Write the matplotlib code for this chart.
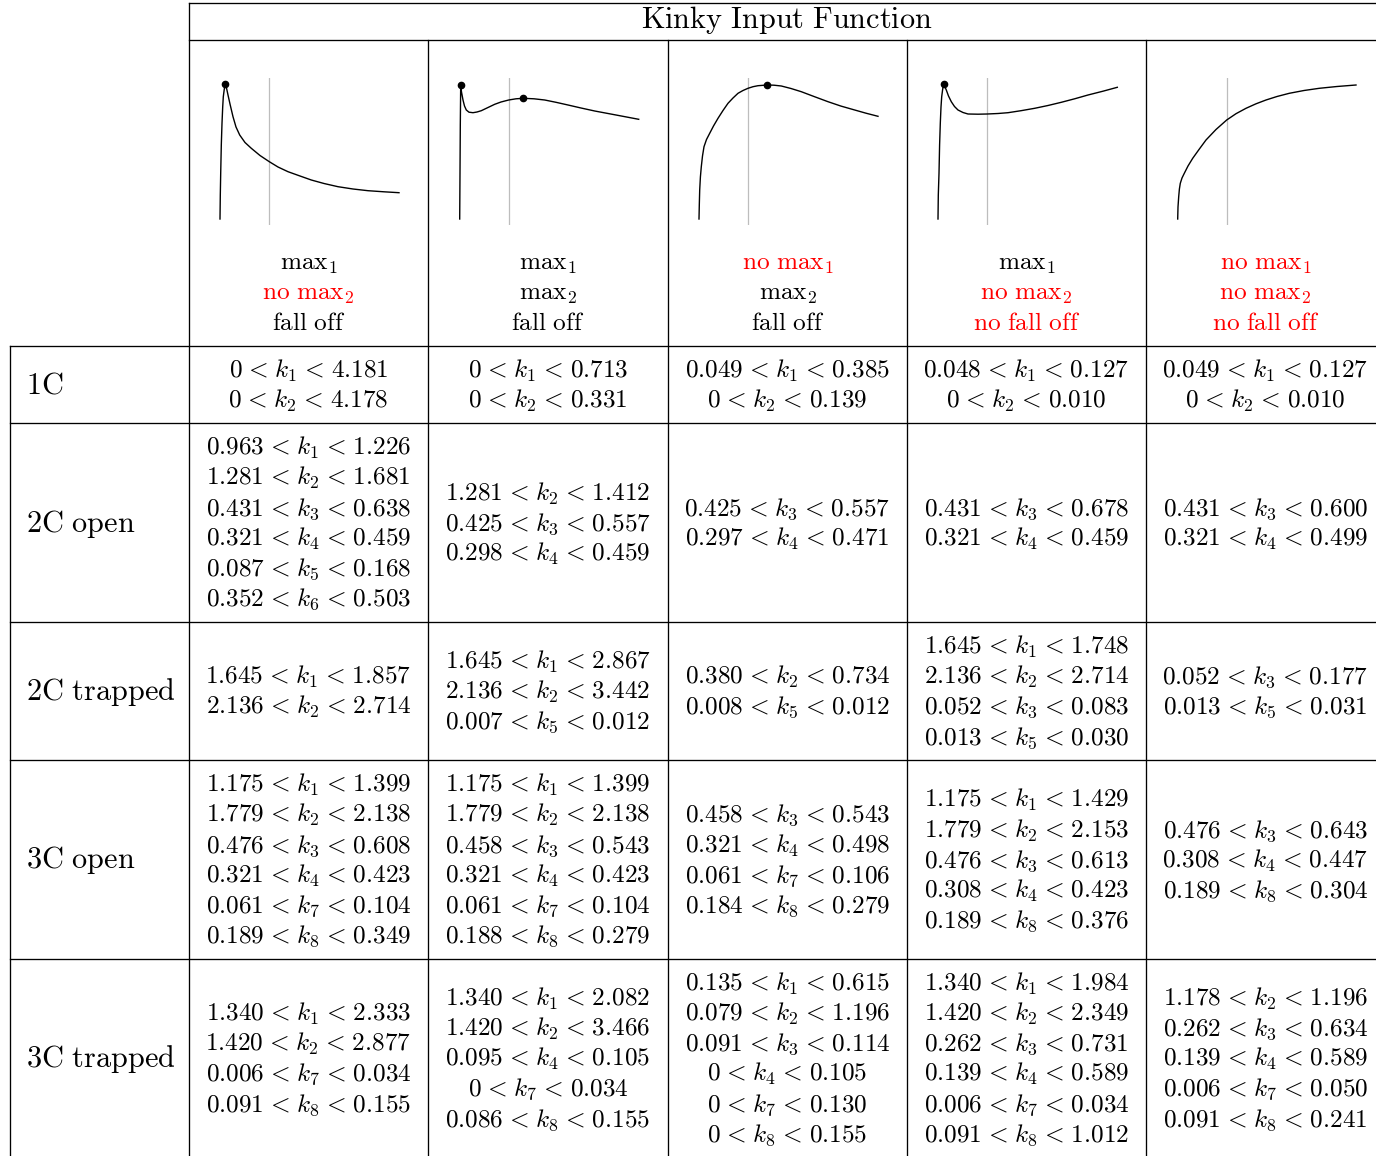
import matplotlib
matplotlib.use("Agg")
import matplotlib.pyplot as plt

plt.rcParams["mathtext.fontset"] = "cm"

# --- table content -------------------------------------------------------
title = "Kinky Input Function"
row_names = ["1C", "2C open", "2C trapped", "3C open", "3C trapped"]

has_max1 = [True, True, False, True, False]
has_max2 = [False, True, True, False, False]
falls_off = [True, True, True, False, False]

# (lower, parameter index, upper) per line, one list per column
ranges_1c = [
    [("0", 1, "4.181"), ("0", 2, "4.178")],
    [("0", 1, "0.713"), ("0", 2, "0.331")],
    [("0.049", 1, "0.385"), ("0", 2, "0.139")],
    [("0.048", 1, "0.127"), ("0", 2, "0.010")],
    [("0.049", 1, "0.127"), ("0", 2, "0.010")],
]
ranges_2c_open = [
    [("0.963", 1, "1.226"), ("1.281", 2, "1.681"), ("0.431", 3, "0.638"),
     ("0.321", 4, "0.459"), ("0.087", 5, "0.168"), ("0.352", 6, "0.503")],
    [("1.281", 2, "1.412"), ("0.425", 3, "0.557"), ("0.298", 4, "0.459")],
    [("0.425", 3, "0.557"), ("0.297", 4, "0.471")],
    [("0.431", 3, "0.678"), ("0.321", 4, "0.459")],
    [("0.431", 3, "0.600"), ("0.321", 4, "0.499")],
]
ranges_2c_trapped = [
    [("1.645", 1, "1.857"), ("2.136", 2, "2.714")],
    [("1.645", 1, "2.867"), ("2.136", 2, "3.442"), ("0.007", 5, "0.012")],
    [("0.380", 2, "0.734"), ("0.008", 5, "0.012")],
    [("1.645", 1, "1.748"), ("2.136", 2, "2.714"), ("0.052", 3, "0.083"),
     ("0.013", 5, "0.030")],
    [("0.052", 3, "0.177"), ("0.013", 5, "0.031")],
]
ranges_3c_open = [
    [("1.175", 1, "1.399"), ("1.779", 2, "2.138"), ("0.476", 3, "0.608"),
     ("0.321", 4, "0.423"), ("0.061", 7, "0.104"), ("0.189", 8, "0.349")],
    [("1.175", 1, "1.399"), ("1.779", 2, "2.138"), ("0.458", 3, "0.543"),
     ("0.321", 4, "0.423"), ("0.061", 7, "0.104"), ("0.188", 8, "0.279")],
    [("0.458", 3, "0.543"), ("0.321", 4, "0.498"), ("0.061", 7, "0.106"),
     ("0.184", 8, "0.279")],
    [("1.175", 1, "1.429"), ("1.779", 2, "2.153"), ("0.476", 3, "0.613"),
     ("0.308", 4, "0.423"), ("0.189", 8, "0.376")],
    [("0.476", 3, "0.643"), ("0.308", 4, "0.447"), ("0.189", 8, "0.304")],
]
ranges_3c_trapped = [
    [("1.340", 1, "2.333"), ("1.420", 2, "2.877"), ("0.006", 7, "0.034"),
     ("0.091", 8, "0.155")],
    [("1.340", 1, "2.082"), ("1.420", 2, "3.466"), ("0.095", 4, "0.105"),
     ("0", 7, "0.034"), ("0.086", 8, "0.155")],
    [("0.135", 1, "0.615"), ("0.079", 2, "1.196"), ("0.091", 3, "0.114"),
     ("0", 4, "0.105"), ("0", 7, "0.130"), ("0", 8, "0.155")],
    [("1.340", 1, "1.984"), ("1.420", 2, "2.349"), ("0.262", 3, "0.731"),
     ("0.139", 4, "0.589"), ("0.006", 7, "0.034"), ("0.091", 8, "1.012")],
    [("1.178", 2, "1.196"), ("0.262", 3, "0.634"), ("0.139", 4, "0.589"),
     ("0.006", 7, "0.050"), ("0.091", 8, "0.241")],
]
all_ranges = [ranges_1c, ranges_2c_open, ranges_2c_trapped,
              ranges_3c_open, ranges_3c_trapped]

# sketch curves of the input function shapes (arbitrary units)
curve_x = [
    [0, 0.3, 0.7, 1.3, 2, 2.7, 3.3, 4.3, 5.3, 6.5, 8, 10, 13, 16, 19.7, 25,
     31.3, 40, 49.3, 58, 68, 80, 91.3, 104, 118, 133, 148, 164, 179],
    [0.7, 1, 1.3, 1.7, 2.5, 4, 5.5, 7.3, 10, 14, 18, 22.3, 29, 35.7, 42,
     49.7, 57, 64.3, 75, 85.7, 97, 109, 122, 135.7, 157, 179.7],
    [0, 0.3, 0.7, 1.4, 2.3, 3.5, 5, 7.5, 10.7, 14.5, 19, 24, 29, 34, 39, 44,
     49, 54, 59, 68.3, 75, 82.3, 92, 102.3, 115, 129, 142, 155.7, 167, 179],
    [0, 0.3, 1, 1.6, 2.3, 3, 3.7, 4.7, 5.7, 7, 8.3, 10.5, 13.3, 16.5, 20,
     25, 30, 40, 49.3, 60, 70, 83, 96.7, 110, 123.3, 137, 150, 165, 179.3],
    [0.7, 1, 1.7, 2.4, 3.3, 5, 7.3, 11, 15.7, 22, 29, 39, 49.7, 59, 69, 79,
     89, 100, 112.3, 127, 142.3, 160, 179],
]
curve_y = [
    [6, 30, 51.7, 80, 101.7, 118, 128.3, 136, 140.7, 137, 130, 121, 108.3,
     98, 90, 82.5, 76.7, 69.5, 63.3, 58, 53.3, 49, 45, 41.5, 38.3, 36,
     34.3, 33.2, 32.3],
    [6, 52, 100, 140, 133, 125, 119, 115, 112.8, 112.3, 113, 114.3, 117.5,
     120.7, 123, 125, 126.2, 126.7, 126.2, 125, 122.7, 120, 117, 114, 110,
     105.7],
    [6, 20, 35, 48, 58.3, 69, 78.3, 85.5, 91.7, 99, 106.7, 114.5, 121.7, 127,
     131.7, 134.5, 136.7, 138.3, 139.3, 140, 139.8, 139, 136.5, 133.3, 128.5,
     123.3, 118.9, 115, 111.8, 108.7],
    [6, 30, 51.7, 80, 101.7, 118, 128.3, 136, 140.7, 138, 135, 129, 123.3,
     118.5, 115, 112.5, 111, 110.8, 111, 111.5, 112.3, 114.3, 116.7, 119.5,
     122.7, 126.3, 130, 133.8, 137.7],
    [6, 18, 28.3, 36, 41.7, 47, 51.7, 59, 66.7, 75.5, 85, 95.5, 105, 111.3,
     116.7, 121.2, 125, 128.5, 131.7, 134.5, 136.7, 138.5, 140],
]
curve_maxima = [[8], [3, 17], [19], [8], []]
curve_mark_x = [49.3, 49.7, 49.0, 49.3, 49.7]

# --- layout (pixels) ------------------------------------------------------
W, H = 1376, 1156
col_edges = [189, 428, 668, 907, 1146, 1385]
row_edges = [346, 423, 622, 760, 959, 1157]
label_left = 10
header_top, header_mid = 3, 40
fs = 18.2
fs_large = 21.8
line_gap = 30.2
red = "#ff0000"
rel = r"\hspace{0.1}<\hspace{0.1}"

fig = plt.figure(figsize=(W / 100, H / 100), dpi=100)
ax = fig.add_axes([0, 0, 1, 1])
ax.set_xlim(0, W)
ax.set_ylim(H, 0)
ax.axis("off")

grid = dict(color="black", lw=0.95, solid_capstyle="projecting")
ax.plot([col_edges[0], col_edges[-1]], [header_top, header_top], **grid)
ax.plot([col_edges[0], col_edges[-1]], [header_mid, header_mid], **grid)
for y in row_edges:
    ax.plot([label_left, col_edges[-1]], [y, y], **grid)
ax.plot([col_edges[0], col_edges[0]], [header_top, row_edges[-1]], **grid)
for x in col_edges[1:]:
    ax.plot([x, x], [header_mid, row_edges[-1]], **grid)
ax.plot([label_left, label_left], [row_edges[0], row_edges[-1]], **grid)

ax.text((col_edges[0] + col_edges[-1]) / 2, 28,
        r"$\mathrm{" + title.replace(" ", r"\ ") + "}$",
        ha="center", va="baseline", fontsize=fs_large)

# header: sketch + feature description
for j in range(5):
    cx = (col_edges[j] + col_edges[j + 1]) / 2
    left = col_edges[j] + 31
    sk = fig.add_axes([left / W, 1 - 225 / H, 180 / W, 147 / H])
    sk.set_xlim(0, 180)
    sk.set_ylim(0, 147)
    sk.axis("off")
    sk.plot([curve_mark_x[j]] * 2, [0, 147], color="#bdbdbd", lw=0.9)
    sk.plot(curve_x[j], curve_y[j], color="black", lw=1.0, clip_on=False,
            solid_joinstyle="round")
    for k in curve_maxima[j]:
        sk.plot(curve_x[j][k], curve_y[j][k], "o", color="black", ms=4.5,
                clip_on=False)

    lines = [
        (r"$\mathrm{max}_1$" if has_max1[j] else r"$\mathrm{no\ max}_1$", has_max1[j]),
        (r"$\mathrm{max}_2$" if has_max2[j] else r"$\mathrm{no\ max}_2$", has_max2[j]),
        (r"$\mathrm{fall\ off}$" if falls_off[j] else r"$\mathrm{no\ fall\ off}$", falls_off[j]),
    ]
    for i, (txt, ok) in enumerate(lines):
        ax.text(cx, 270 + i * 29.8, txt, ha="center", va="baseline",
                fontsize=fs, color="black" if ok else red)

# body
for r, name in enumerate(row_names):
    cy = (row_edges[r] + row_edges[r + 1]) / 2
    ax.text(26, cy + 9, r"$\mathrm{" + name.replace(" ", r"\ ") + "}$",
            ha="left", va="baseline", fontsize=fs_large)
    for j in range(5):
        cx = (col_edges[j] + col_edges[j + 1]) / 2
        cell = all_ranges[r][j]
        n = len(cell)
        for i, (lo, idx, hi) in enumerate(cell):
            y = cy + (i - (n - 1) / 2) * line_gap + 8
            ax.text(cx, y, rf"${lo}{rel}k_{idx}{rel}{hi}$", ha="center",
                    va="baseline", fontsize=fs)

fig.savefig("out.png", dpi=100)
